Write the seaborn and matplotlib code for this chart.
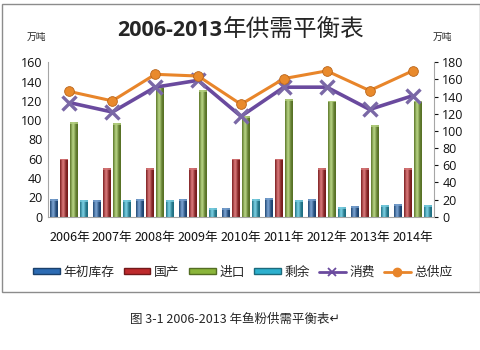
import numpy as np
import pandas as pd
import matplotlib
matplotlib.use("Agg")
import matplotlib.pyplot as plt
import matplotlib.colors as mcolors
from matplotlib.patches import Rectangle
from matplotlib.lines import Line2D
import seaborn as sns

# 数据（万吨）
years = ["2006年", "2007年", "2008年", "2009年", "2010年", "2011年", "2012年", "2013年", "2014年"]
stock = [18, 17, 18, 18, 9, 19, 18, 11, 13]          # 年初库存
domestic = [60, 50, 50, 50, 60, 60, 50, 50, 50]     # 国产
imports = [98, 97, 135, 131, 104, 122, 120, 95, 120]  # 进口
surplus = [17, 17, 17, 9, 18, 17, 10, 12, 12]        # 剩余
consumption = [133, 122, 151, 159, 117, 151, 151, 125, 141]  # 消费
supply = [146, 135, 166, 164, 131, 161, 170, 147, 170]       # 总供应

bar_names = ["年初库存", "国产", "进口", "剩余"]
bar_colors = ["#2C6BB3", "#BE2A2C", "#8AB53A", "#2DB0CE"]
line_names = ["消费", "总供应"]
line_colors = ["#6A4A9E", "#E8852A"]

bars = pd.DataFrame({
    "年份": years * 4,
    "项目": [n for n in bar_names for _ in years],
    "数量": stock + domestic + imports + surplus,
})
lines = pd.DataFrame({
    "pos": list(range(len(years))) * 2,
    "项目": [n for n in line_names for _ in years],
    "数量": consumption + supply,
})

sns.set_style("white")
plt.rcParams["font.family"] = ["Noto Sans CJK SC", "DejaVu Sans"]

fig = plt.figure(figsize=(4.81, 3.5), dpi=100)
ax = fig.add_axes([48 / 481, 1 - 216.7 / 350, (434 - 48) / 481, (216.7 - 62.3) / 350])

sns.barplot(data=bars, x="年份", y="数量", hue="项目", hue_order=bar_names,
            palette=bar_colors, width=0.93, gap=0.2, saturation=1,
            edgecolor="none", linewidth=0, legend=False, ax=ax)

# cylinder-like shading on each bar
for patch, base in zip(ax.patches, [c for c in bar_colors for _ in years]):
    x0, y0 = patch.get_x(), patch.get_y()
    w, h = patch.get_width(), patch.get_height()
    rgb = np.array(mcolors.to_rgb(base))
    dark = rgb * 0.62
    light = np.clip(rgb + (1 - rgb) * 0.35, 0, 1)
    t = np.linspace(0, 1, 32)
    prof = np.exp(-((t - 0.4) / 0.28) ** 2)
    grad = dark[None, :] + (light - dark)[None, :] * prof[:, None]
    img = ax.imshow(grad[None, :, :], extent=(x0, x0 + w, y0, y0 + h),
                    aspect="auto", zorder=patch.get_zorder() + 0.1,
                    interpolation="bilinear")
    img.set_clip_path(patch)
    ax.add_patch(Rectangle((x0, y0 + h - 1.6), w, 1.6, color=light,
                           alpha=0.8, zorder=patch.get_zorder() + 0.2, lw=0))

ax.set_xlim(-0.5, len(years) - 0.5)
ax.set_ylim(0, 160)
ax.set_yticks(range(0, 161, 20))
ax.set_xlabel("")
ax.set_ylabel("")
ax.tick_params(axis="x", length=0, labelsize=9.1, pad=10, colors="#111111")
ax.tick_params(axis="y", length=0, labelsize=9, pad=4, colors="#111111")
for lbl in ax.get_yticklabels():
    lbl.set_family(["Open Sans", "DejaVu Sans"])
for side in ["top", "right"]:
    ax.spines[side].set_visible(False)
for side in ["left", "bottom"]:
    ax.spines[side].set_color("#A6A6A6")
    ax.spines[side].set_linewidth(0.8)

ax2 = ax.twinx()
sns.lineplot(data=lines[lines["项目"] == "消费"], x="pos", y="数量",
             color=line_colors[0], linewidth=2.6, marker="x", markersize=10,
             markeredgewidth=2.4, markeredgecolor="#7A68A6", ax=ax2, legend=False)
sns.lineplot(data=lines[lines["项目"] == "总供应"], x="pos", y="数量",
             color=line_colors[1], linewidth=2.2, marker="o", markersize=7,
             markerfacecolor="#E98A2C", markeredgecolor="#B9651A",
             markeredgewidth=0.6, ax=ax2, legend=False)
ax2.set_xlim(-0.5, len(years) - 0.5)
ax2.set_ylim(0, 180)
ax2.set_yticks(range(0, 181, 20))
ax2.set_xlabel("")
ax2.set_ylabel("")
ax2.tick_params(axis="y", length=3, width=0.8, labelsize=9, pad=3, colors="#111111")
for tl in ax2.yaxis.get_ticklines():
    tl.set_color("#A6A6A6")
for lbl in ax2.get_yticklabels():
    lbl.set_family(["Open Sans", "DejaVu Sans"])
for side in ["top", "left", "bottom"]:
    ax2.spines[side].set_visible(False)
ax2.spines["right"].set_color("#A6A6A6")
ax2.spines["right"].set_linewidth(0.8)

# 标题：数字加粗，汉字常规
fig.canvas.draw()
renderer = fig.canvas.get_renderer()
t1 = fig.text(0, 1 - 30 / 350, "2006-2013", ha="left", va="center",
              fontsize=15.5, fontweight="bold", family=["Open Sans", "DejaVu Sans"])
t2 = fig.text(0, 1 - 30 / 350, "年供需平衡表", ha="left", va="center",
              fontsize=17, family=["Noto Sans CJK SC"])
w1 = t1.get_window_extent(renderer).width
w2 = t2.get_window_extent(renderer).width
start = 241 - (w1 + w2) / 2
t1.set_x(start / 481)
t2.set_x((start + w1) / 481)

fig.text(36 / 481, 1 - 37 / 350, "万吨", ha="center", va="center", fontsize=7)
fig.text(442 / 481, 1 - 37 / 350, "万吨", ha="center", va="center", fontsize=7)

# 图例
handles = [Rectangle((0, 0), 1, 1, facecolor=c, edgecolor=mcolors.to_rgb(c) * np.array(0.6))
           for c in bar_colors]
handles.append(Line2D([], [], color=line_colors[0], lw=2, marker="x", markersize=6,
                      markeredgewidth=1.3))
handles.append(Line2D([], [], color=line_colors[1], lw=2, marker="o", markersize=6))
fig.legend(handles, bar_names + line_names, loc="center", ncol=6,
           bbox_to_anchor=(243 / 481, 1 - 272 / 350), frameon=False, fontsize=9.2,
           handlelength=2.1, handleheight=0.4, handletextpad=0.3, columnspacing=0.7)

# 外框
fig.add_artist(Rectangle((2 / 481, 1 - 292 / 350), 478 / 481, 288 / 350,
                         transform=fig.transFigure, fill=False,
                         edgecolor="#8C8C8C", linewidth=1.0))

# 图注
fig.text(130 / 481, 1 - 319 / 350, "图 3-1 2006-2013 年鱼粉供需平衡表↵", ha="left",
         va="center", fontsize=9, family=["Noto Sans CJK SC", "DejaVu Sans"])

fig.savefig("out.png", dpi=100)
